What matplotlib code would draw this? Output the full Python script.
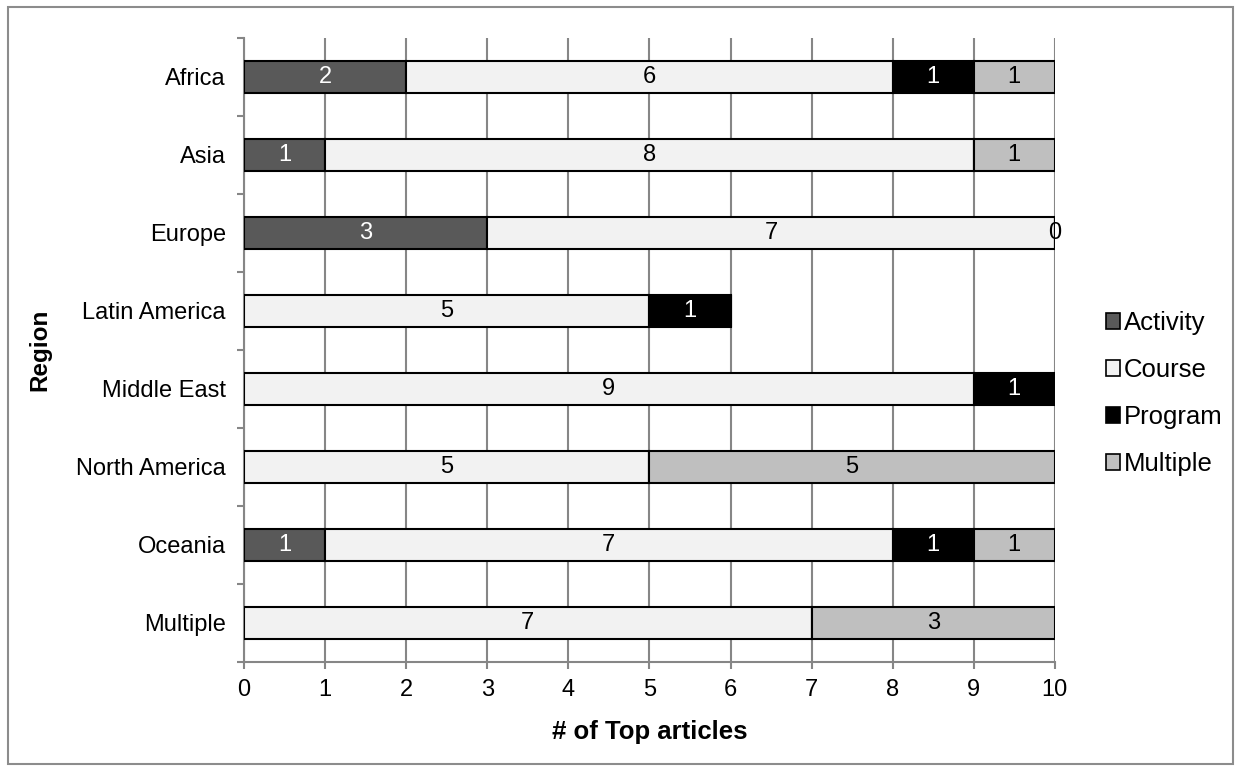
import numpy as np
import matplotlib.pyplot as plt
from matplotlib.patches import Rectangle

plt.rcParams['font.family'] = ['Liberation Sans', 'DejaVu Sans']

regions = ["Africa", "Asia", "Europe", "Latin America", "Middle East",
           "North America", "Oceania", "Multiple"]
series = ["Activity", "Course", "Program", "Multiple"]
activity = [2, 1, 3, 0, 0, 0, 1, 0]
course = [6, 8, 7, 5, 9, 5, 7, 7]
program = [1, 0, 0, 1, 1, 0, 1, 0]
multiple = [1, 1, 0, 0, 0, 5, 1, 3]
# Europe shows an explicit 0 label for "Multiple"
show_zero = {("Europe", "Multiple")}

colors = ["#595959", "#f2f2f2", "#000000", "#bfbfbf"]
text_colors = ["white", "black", "white", "black"]


def main():
    fig = plt.figure(figsize=(12.41, 7.72), dpi=100)
    ax = fig.add_axes([0.1966, 0.1425, 0.6534, 0.8085])
    fig.patches.append(Rectangle((0.0065, 0.011), 0.987, 0.98, transform=fig.transFigure,
                                 fill=False, edgecolor="#8c8c8c", linewidth=1.5))

    y = np.arange(len(regions))
    left = np.zeros(len(regions))
    data = [activity, course, program, multiple]
    for i, (name, vals) in enumerate(zip(series, data)):
        vals = np.array(vals, dtype=float)
        ax.barh(y, vals, left=left, height=0.41, color=colors[i], edgecolor="black",
                linewidth=1.5, label=name, zorder=3)
        for j, v in enumerate(vals):
            if v > 0 or (regions[j], name) in show_zero:
                ax.text(left[j] + v / 2, y[j], f"{int(v)}", ha="center", va="center",
                        fontsize=17, color=text_colors[i], zorder=4)
        left += vals

    ax.set_xlim(0, 10)
    ax.set_ylim(len(regions) - 0.5, -0.5)
    ax.set_xticks(range(0, 11))
    ax.set_yticks(y)
    ax.set_yticklabels(regions, fontsize=17)
    ax.set_yticks(np.arange(-0.5, len(regions), 1), minor=True)
    ax.tick_params(axis="y", which="major", length=0, pad=13)
    ax.tick_params(axis="y", which="minor", length=5, color="#868686", width=1.5)
    ax.tick_params(axis="x", length=5, color="#868686", width=1.5, labelsize=17, pad=7)
    ax.grid(axis="x", color="#868686", linewidth=1.5, zorder=0)
    ax.set_axisbelow(True)
    for s in ["top", "right"]:
        ax.spines[s].set_visible(False)
    for s in ["left", "bottom"]:
        ax.spines[s].set_color("#868686")
        ax.spines[s].set_linewidth(1.5)

    ax.set_xlabel("# of Top articles", fontsize=18.5, fontweight="bold")
    ax.xaxis.set_label_coords(0.5, -0.093)
    ax.set_ylabel("Region", fontsize=17.5, fontweight="bold")
    ax.yaxis.set_label_coords(-0.238, 0.5)

    leg = ax.legend(loc="center left", bbox_to_anchor=(1.05, 0.43), frameon=False,
                    fontsize=18.5, handlelength=0.55, handleheight=0.55, handletextpad=0.15,
                    labelspacing=0.9, borderaxespad=0)
    for h in leg.legend_handles:
        h.set_linewidth(1.2)

    fig.savefig("out.png", dpi=100)


if __name__ == "__main__":
    main()
